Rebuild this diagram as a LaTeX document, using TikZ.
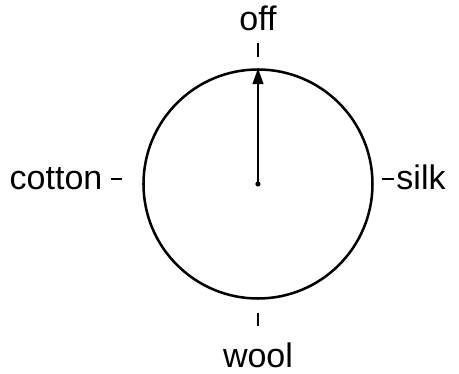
\documentclass[tikz,border=0pt]{standalone}
\usepackage{fontspec}
\setmainfont{Liberation Sans}
\usetikzlibrary{positioning, arrows.meta}
\tikzset{
  dial/.style    = {draw, circle, line width=1.8pt, minimum size=5.725cm, inner sep=0pt},
  setting/.style = {inner sep=0pt, font=\fontsize{24.2}{28}\selectfont},
  tick/.style    = {line width=1.4pt},
  pointer/.style = {-{Triangle[width=0.27cm, length=0.4cm]}, line width=1.6pt}
}

\begin{document}
\begin{tikzpicture}
  \useasboundingbox (-6.45,-4.75) rectangle (5.025,4.6);
  \node[dial] (dial) at (0,0) {};
  \coordinate (hub) at (dial.center);
  \node[setting, above=0.94cm of dial, anchor=base] (off)  {off};
  \node[setting, below=1.69cm of dial, anchor=base] (wool) {wool};
  \node[setting, left=0.99cm of dial, anchor=base east, yshift=-0.15cm]  (cotton) {cotton};
  \node[setting, right=0.56cm of dial, anchor=base west, yshift=-0.15cm] (silk)   {silk};
  % ticks
  \draw[tick] ([yshift=0.29cm]dial.north) -- ++(0,0.33);
  \draw[tick] ([yshift=-0.33cm]dial.south) -- ++(0,-0.33);
  \draw[tick] ([xshift=-0.51cm, yshift=0.12cm]dial.west) -- ++(-0.28,0);
  \draw[tick] ([xshift=0.2cm, yshift=0.12cm]dial.east) -- ++(0.3,0);
  % pointer
  \fill (hub) circle (0.065);
  \draw[pointer] (hub) -- (dial.north);
\end{tikzpicture}
\end{document}
